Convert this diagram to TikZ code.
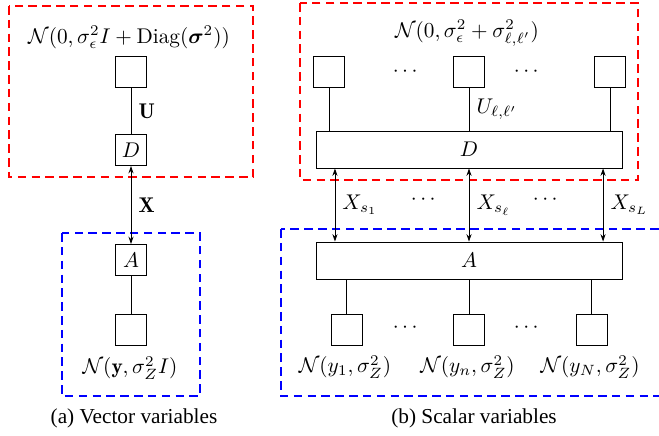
\documentclass[tikz,border=0pt]{standalone}
\usepackage{amsmath}
\usepackage{amssymb}
\usepackage{bm}
\usepackage{xcolor}
\usepackage{fontspec}
\usepackage{tikz}
\usetikzlibrary{positioning, arrows.meta, calc}
\newfontfamily\capfont{Liberation Serif}
\definecolor{boxRed}{HTML}{FF0000}
\definecolor{boxBlue}{HTML}{0000FF}

\begin{document}
\begin{tikzpicture}[x=0.47pt, y=-0.47pt,
    sq/.style={draw, minimum size=14.6pt, inner sep=0pt},
    wide/.style={draw, minimum width=143.8pt, minimum height=17.4pt, inner sep=0pt},
    msg/.style={{Stealth[length=3.5pt,width=2.4pt]}-{Stealth[length=3.5pt,width=2.4pt]}},
    redbox/.style={draw=boxRed, line width=0.5pt, dash pattern=on 4pt off 2.5pt},
    bluebox/.style={draw=boxBlue, line width=0.5pt, dash pattern=on 4pt off 2.5pt}]
        \useasboundingbox (0,0) rectangle (659,435);
        % (a) vector variables
        \draw[redbox] (9,6) rectangle (253,177);
        \draw[bluebox] (62,233) rectangle (200,396);
        \node (vTop) at (129,37) {$\mathcal{N}(0,\sigma_\epsilon^2 I+\mathrm{Diag}(\bm{\sigma}^2))$};
        \node[sq] (vOut) at (131,72) {};
        \node[sq] (vD) at (131,150) {$D$};
        \node[sq] (vA) at (131,260) {$A$};
        \node[sq] (vIn) at (131,330) {};
        \node (vBot) at (130,368) {$\mathcal{N}(\mathbf{y},\sigma_Z^2 I)$};
        \draw (vOut) -- node[right] {$\mathbf{U}$} (vD);
        \draw[msg] (vD) -- node[right] {$\mathbf{X}$} (vA);
        \draw (vA) -- (vIn);
        \node[font=\capfont] (capA) at (134,418) {(a) Vector variables};
        % (b) scalar variables
        \draw[redbox] (300,3) rectangle (638,180);
        \draw[bluebox] (281,229) rectangle (690,396);
        \node (sTop) at (467,33) {$\mathcal{N}(0,\sigma_\epsilon^2+\sigma_{\ell,\ell'}^2)$};
        \node[sq] (sOut1) at (329,72) {};
        \node[sq] (sOutl) at (469,72) {};
        \node[sq] (sOutL) at (610,72) {};
        \node (sDotsA) at (407,72) {$\cdots$};
        \node (sDotsB) at (528,72) {$\cdots$};
        \node[wide] (sD) at (469,149.5) {$D$};
        \node[wide] (sA) at (469,260.5) {$A$};
        \draw (sOut1) -- (sOut1 |- sD.north);
        \draw (sOutl) -- node[right] {$U_{\ell,\ell'}$} (sOutl |- sD.north);
        \draw (sOutL) -- (sOutL |- sD.north);
        \draw[msg] ([xshift=-63pt]sD.south) -- node[right] {$X_{s_1}$} ([xshift=-63pt]sA.north);
        \draw[msg] (sD.south) -- node[right] {$X_{s_\ell}$} (sA.north);
        \draw[msg] ([xshift=63pt]sD.south) -- node[right] {$X_{s_L}$} ([xshift=63pt]sA.north);
        \node (sDotsC) at (425,200) {$\cdots$};
        \node (sDotsD) at (547,200) {$\cdots$};
        \node[sq] (sIn1) at (346.5,330) {};
        \node[sq] (sInn) at (469,330) {};
        \node[sq] (sInN) at (591.5,330) {};
        \node (sDotsE) at (407,328) {$\cdots$};
        \node (sDotsF) at (528,328) {$\cdots$};
        \draw (sIn1 |- sA.south) -- (sIn1);
        \draw (sA.south) -- (sInn);
        \draw (sInN |- sA.south) -- (sInN);
        \node (sBot1) at (345,367) {$\mathcal{N}(y_1,\sigma_Z^2)$};
        \node (sBotn) at (467.5,367) {$\mathcal{N}(y_n,\sigma_Z^2)$};
        \node (sBotN) at (590,367) {$\mathcal{N}(y_N,\sigma_Z^2)$};
        \node[font=\capfont] (capB) at (474,418) {(b) Scalar variables};
      \end{tikzpicture}
\end{document}
